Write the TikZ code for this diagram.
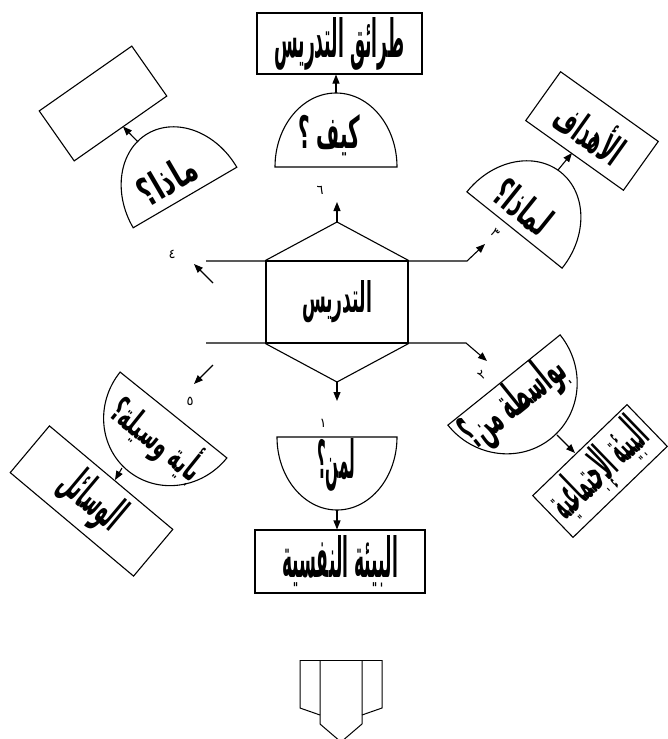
\documentclass[tikz,border=0pt]{standalone}
\usepackage{graphicx}
\usepackage{fontspec}
\newfontfamily\arabicfont[Script=Arabic]{DejaVu Sans}
\usetikzlibrary{arrows.meta}
\TeXXeTstate=1
\newcommand{\artext}[3]{\resizebox{#1pt}{#2pt}{\arabicfont\bfseries #3}}
\begin{document}
\begin{tikzpicture}[x=1pt,y=-1pt,line width=1.1pt,
  box/.style={draw,inner sep=0pt},
  lbl/.style={inner sep=0pt},
  num/.style={inner sep=0pt,font=\arabicfont\fontsize{13}{13}\selectfont},
  arr/.style={-{Triangle[length=9pt,width=7pt]}}]
\fill[white] (0,0) rectangle (668,739);
\useasboundingbox (0,0) rectangle (668,739);

% ---------- centre hexagon ----------
\node[box,minimum width=142pt,minimum height=82pt] (teach) at (337,302) {\artext{70}{32}{\beginR التدريس\endR}};
\coordinate (hexTop) at (337,222);
\coordinate (hexBot) at (337,382);
\draw (teach.north west) -- (hexTop) -- (teach.north east);
\draw (teach.south west) -- (hexBot) -- (teach.south east);

% horizontal lines with bent arrows
\coordinate (l3s) at (206,261); \coordinate (l3b) at (467,261); \coordinate (l3e) at (485,244);
\draw[arr] (l3s) -- (l3b) -- (l3e);
\coordinate (l2s) at (206,343); \coordinate (l2b) at (466,343); \coordinate (l2e) at (487,361);
\draw[arr] (l2s) -- (l2b) -- (l2e);

% vertical and diagonal arrows
\coordinate (a6) at (337,202);
\draw[arr] (hexTop) -- (a6);
\coordinate (a1) at (337,401);
\draw[arr] (hexBot) -- (a1);
\coordinate (a4s) at (213,283); \coordinate (a4e) at (194,264);
\draw[arr] (a4s) -- (a4e);
\coordinate (a5s) at (213,365); \coordinate (a5e) at (194,384);
\draw[arr] (a5s) -- (a5e);

% numbers
\node[num] (n6) at (320,190) {٦};
\node[num] (n1) at (323,423) {١};
\node[num,rotate=-45] (n3) at (495,233) {٣};
\node[num,rotate=40] (n2) at (482,375) {٢};
\node[num] (n4) at (172,254) {٤};
\node[num] (n5) at (190,401) {٥};

% ---------- top: how? ----------
\node[box,minimum width=165pt,minimum height=61pt] (methods) at (339.5,43.5) {\artext{130}{40}{\beginR طرائق التدريس\endR}};
\begin{scope}[shift={(336,167)}]
  \draw (-61,0) arc[start angle=180,end angle=0,x radius=61pt,y radius=74pt] -- cycle;
  \coordinate (kayfApex) at (0,-74);
\end{scope}
\node[lbl] (kayf) at (329,135) {\artext{62}{34}{\beginR كيف ؟\endR}};
\draw[arr] (kayfApex) -- (kayfApex |- methods.south);

% ---------- bottom: for whom? ----------
\node[box,minimum width=170pt,minimum height=63pt] (psy) at (340,561.5) {\artext{116}{42}{\beginR البيئة النفسية\endR}};
\begin{scope}[shift={(337,437)}]
  \draw (-60,0) arc[start angle=180,end angle=360,x radius=60pt,y radius=73pt] -- cycle;
  \coordinate (limanApex) at (0,73);
\end{scope}
\node[lbl] (liman) at (336,465) {\artext{38}{40}{\beginR لمن؟\endR}};
\draw[arr] (limanApex) -- (limanApex |- psy.north);

% ---------- top left: what? ----------
\node[box,rotate=35,minimum width=113pt,minimum height=61pt] (empty) at (103,103.5) {};
\begin{scope}[shift={(185,197.5)},rotate=30.3]
  \draw (-60,0) arc[start angle=180,end angle=0,x radius=60pt,y radius=74pt] -- cycle;
\end{scope}
\node[lbl,rotate=30.3] (madha) at (167,180) {\artext{62}{30}{\beginR ماذا؟\endR}};
\coordinate (tlS) at (138,142); \coordinate (tlE) at (123,126.5);
\draw[arr] (tlS) -- (tlE);

% ---------- top right: why? ----------
\node[box,rotate=-35.5,minimum width=120pt,minimum height=60pt] (goals) at (592,131) {\artext{75}{38}{\beginR الأهداف\endR}};
\begin{scope}[shift={(514.5,230)},rotate=-38.7]
  \draw (-61,0) arc[start angle=180,end angle=0,x radius=61pt,y radius=74pt] -- cycle;
\end{scope}
\node[lbl,rotate=-38.7] (limadha) at (523,207) {\artext{63}{30}{\beginR لماذا؟\endR}};
\coordinate (trS) at (558,170); \coordinate (trE) at (572,153);
\draw[arr] (trS) -- (trE);

% ---------- bottom right: by whom? ----------
\node[box,rotate=44,minimum width=131pt,minimum height=58pt] (social) at (600,471) {\artext{118}{38}{\beginR البيئة الإجتماعية\endR}};
\begin{scope}[shift={(504,380)},rotate=38.8]
  \draw (-72,0) arc[start angle=180,end angle=360,x radius=72pt,y radius=75pt] -- cycle;
\end{scope}
\node[lbl,rotate=38.8] (biwasita) at (515,403) {\artext{120}{36}{\beginR بواسطة من؟\endR}};
\coordinate (brS) at (557,435); \coordinate (brE) at (575,453);
\draw[arr] (brS) -- (brE);

% ---------- bottom left: by which means? ----------
\node[box,rotate=-40,minimum width=161pt,minimum height=61pt] (media) at (91.5,501) {\artext{70}{36}{\beginR الوسائل\endR}};
\begin{scope}[shift={(173.5,415)},rotate=-38.8]
  \draw (-68.5,0) arc[start angle=180,end angle=360,x radius=68.5pt,y radius=72pt] -- cycle;
\end{scope}
\node[lbl,rotate=-38.8] (biayy) at (158,439) {\artext{108}{36}{\beginR بأية وسيلة؟\endR}};
\coordinate (blS) at (122,468); \coordinate (blE) at (115,480);
\draw[arr] (blS) -- (blE);

% ---------- block arrow at the bottom ----------
\draw[line width=1pt] (300,660) -- (382,660);
\draw[line width=1pt] (300,660) -- (300,708) -- (320,715);
\draw[line width=1pt] (382,660) -- (382,708) -- (362,715);
\draw[line width=1pt] (320,660) -- (320,724) -- (341,742) -- (362,724) -- (362,660);
\end{tikzpicture}
\end{document}
